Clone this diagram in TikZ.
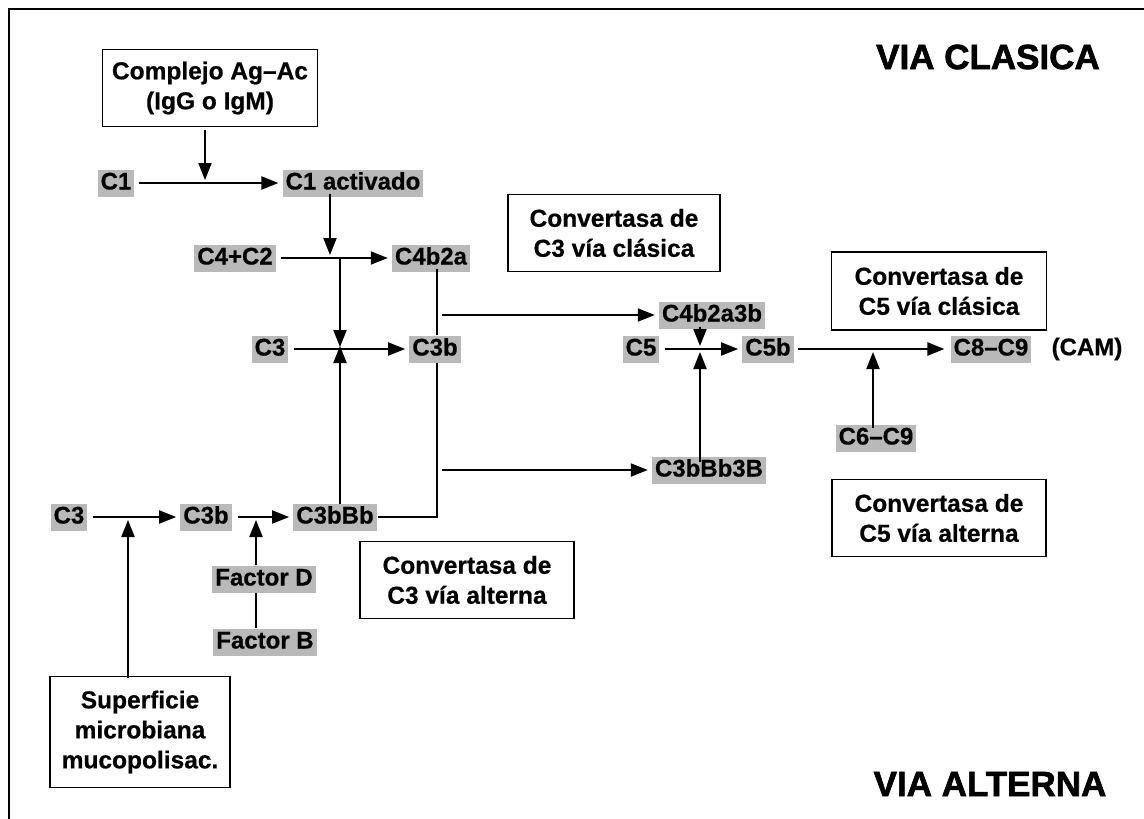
\documentclass[tikz,border=0pt]{standalone}
\usepackage{fontspec}
\setmainfont[BoldFeatures={FakeBold=0.6}]{Liberation Sans}
\newfontfamily\heavyfont[BoldFeatures={FakeBold=1.8}]{Liberation Sans}
\usetikzlibrary{arrows.meta}
\begin{document}
\begin{tikzpicture}[x=1pt,y=-1pt,
 lbl/.style={fill=gray!55, font=\bfseries\fontsize{24}{26}\selectfont, inner xsep=3pt, inner ysep=3pt, text height=17pt, text depth=4pt},
 plain/.style={font=\bfseries\fontsize{24}{26}\selectfont, inner sep=2pt},
 box/.style={draw, line width=1.3pt, align=center, font=\bfseries\fontsize{24.5}{30}\selectfont, inner sep=0pt},
 arr/.style={line width=2pt, -{Triangle[length=17pt,width=13pt]}},
 ln/.style={line width=2pt},
 ttl/.style={font=\heavyfont\bfseries\fontsize{35}{40}\selectfont, inner sep=0pt}
]
\useasboundingbox (0,0) rectangle (1144,819);
\draw[line width=1.5pt] (9,819) -- (9,9) -- (1144,9);

% titles
\node[ttl] (vc) at (988,57) {VIA CLASICA};
\node[ttl] (va) at (990,784) {VIA ALTERNA};

% boxes
\node[box, minimum width=215pt, minimum height=77pt] (agac) at (210,88) {Complejo Ag--Ac\\(IgG o IgM)};
\node[box, minimum width=212pt, minimum height=77pt] (conv3c) at (614,233) {Convertasa de\\C3 vía clásica};
\node[box, minimum width=215pt, minimum height=78pt] (conv5c) at (939,291) {Convertasa de\\C5 vía clásica};
\node[box, minimum width=214pt, minimum height=77pt] (conv5a) at (939,518) {Convertasa de\\C5 vía alterna};
\node[box, minimum width=214pt, minimum height=77pt] (conv3a) at (467,580) {Convertasa de\\C3 vía alterna};
\node[box, minimum width=180pt, minimum height=111pt] (sup) at (140,732) {Superficie\\microbiana\\mucopolisac.};

% gray labels
\node[lbl] (c1) at (116,183) {C1};
\node[lbl] (c1a) at (353,183) {C1 activado};
\node[lbl] (c42) at (235,258) {C4+C2};
\node[lbl] (c4b2a) at (431,258) {C4b2a};
\node[lbl] (c3u) at (270,349) {C3};
\node[lbl] (c3bu) at (435,349) {C3b};
\node[lbl] (c4b2a3b) at (712,315) {C4b2a3b};
\node[lbl] (c3bbb3b) at (709,470) {C3bBb3B};
\node[lbl] (c5) at (641,349) {C5};
\node[lbl] (c5b) at (768,349) {C5b};
\node[lbl] (c89) at (991,349) {C8--C9};
\node[plain] (cam) at (1087,349) {(CAM)};
\node[lbl] (c69) at (876,438) {C6--C9};
\node[lbl] (c3l) at (69,517) {C3};
\node[lbl] (c3bl) at (206,517) {C3b};
\node[lbl] (c3bbb) at (335,517) {C3bBb};
\node[lbl] (fd) at (264,579) {Factor D};
\node[lbl] (fb) at (265,642) {Factor B};

% junction coordinates
\coordinate (j1) at (205,183);
\coordinate (j2) at (330,258);
\coordinate (j3) at (340,258);
\coordinate (j4) at (340,349);
\coordinate (v1) at (437,258);
\coordinate (b1) at (437,315);
\coordinate (b2) at (437,470);
\coordinate (v2) at (437,517);
\coordinate (j5) at (700,349);
\coordinate (j6) at (873,349);
\coordinate (j7) at (128,517);
\coordinate (j8) at (256,517);

% classical pathway
\draw[arr] ([xshift=4pt]c1.east) -- ([xshift=-4pt]c1a.west);
\draw[arr, shorten >=3pt] (agac.south -| j1) ++(0,3) -- (j1);
\draw[arr] ([xshift=5pt]c42.east) -- ([xshift=-4pt]c4b2a.west);
\draw[arr, shorten >=3pt] ([yshift=3pt]c1a.south -| j2) -- (j2);
\draw[arr] ([xshift=5pt]c3u.east) -- ([xshift=-4pt]c3bu.west);
\draw[arr, shorten >=2pt] (j3) -- (j4);
\draw[arr, shorten >=-3pt] ([yshift=-1pt]c3bbb.north -| j4) -- (j4);

% trunk
\draw[ln] ([yshift=3pt]c4b2a.south -| v1) -- (c3bu.north -| v1);
\draw[ln] (c3bu.south -| v2) -- (v2) -- ([xshift=1pt]c3bbb.east);
\draw[arr] ([xshift=5pt]b1) -- ([xshift=-4pt]c4b2a3b.west);
\draw[arr] ([xshift=5pt]b2) -- ([xshift=-4pt]c3bbb3b.west);

% C5 stage
\draw[arr] ([xshift=5pt]c5.east) -- ([xshift=-4pt]c5b.west);
\draw[arr, shorten >=3pt] ([yshift=2pt]c4b2a3b.south -| j5) -- (j5);
\draw[arr, shorten >=3pt] ([yshift=-6pt]c3bbb3b.north -| j5) -- (j5);
\draw[arr] ([xshift=4pt]c5b.east) -- ([xshift=-6pt]c89.west);
\draw[arr, shorten >=3pt] ([yshift=-4pt]c69.north -| j6) -- (j6);

% alternative pathway
\draw[arr] ([xshift=5pt]c3l.east) -- ([xshift=-4pt]c3bl.west);
\draw[arr] ([xshift=6pt]c3bl.east) -- ([xshift=-4pt]c3bbb.west);
\draw[arr, shorten >=3pt] ([yshift=-2pt]sup.north -| j7) -- (j7);
\draw[arr, shorten >=3pt] (fd.north -| j8) -- (j8);
\draw[ln] (fb.north -| j8) -- (fd.south -| j8);
\end{tikzpicture}
\end{document}
